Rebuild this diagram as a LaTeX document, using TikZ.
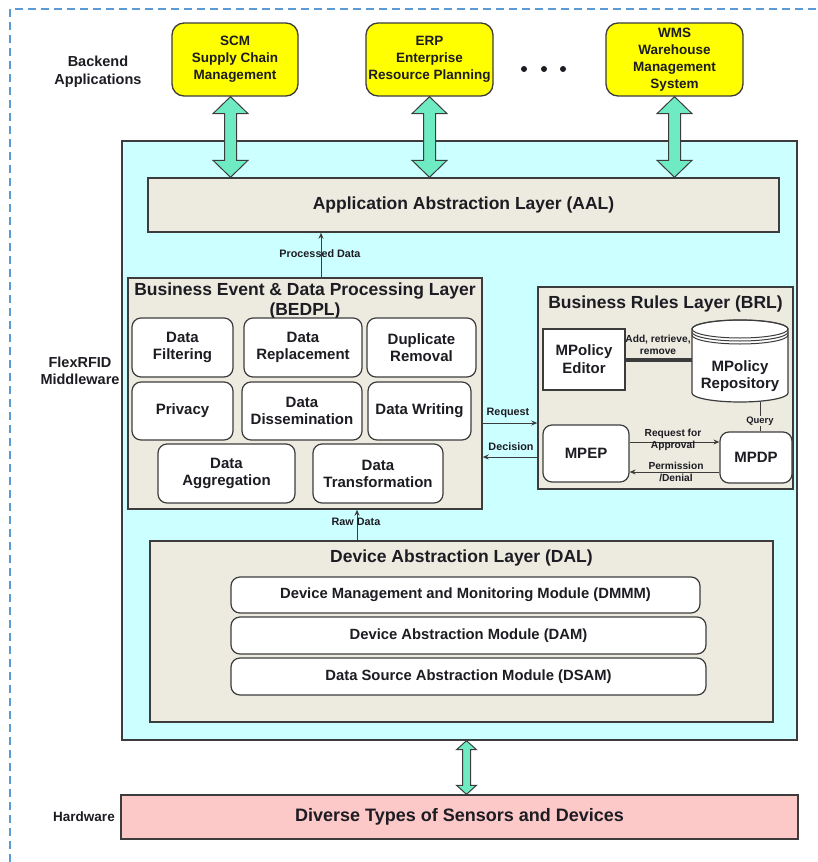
\documentclass[tikz,border=0pt]{standalone}
\usepackage{fontspec}
\setmainfont{Liberation Sans}
\usetikzlibrary{arrows.meta,calc}
\definecolor{edge}{HTML}{3C3C3C}
\definecolor{txt}{HTML}{1C1C22}
\definecolor{layer}{HTML}{EDEBE0}
\definecolor{cyanbg}{HTML}{CCFFFF}
\definecolor{pinkbg}{HTML}{FCC8C8}
\definecolor{appyellow}{HTML}{FFFF00}
\definecolor{arrgreen}{HTML}{6EEBC2}
\definecolor{dashcol}{HTML}{5B9BD5}
\newcommand{\dblarrow}[5]{%
  \path[draw=edge, fill=arrgreen, line width=1pt, line join=miter]
    let \p1=(#1), \p2=(#2) in
    (\x1,\y1) -- (\x1+#3pt,\y1-#5pt) -- (\x1+#4pt,\y1-#5pt) -- (\x1+#4pt,\y2+#5pt)
    -- (\x1+#3pt,\y2+#5pt) -- (\x1,\y2) -- (\x1-#3pt,\y2+#5pt) -- (\x1-#4pt,\y2+#5pt)
    -- (\x1-#4pt,\y1-#5pt) -- (\x1-#3pt,\y1-#5pt) -- cycle;}
\begin{document}
\begin{tikzpicture}[x=1pt,y=1pt,
  >={Stealth[length=6pt,width=5pt]},
  lay/.style={draw=edge, line width=1.4pt, fill=layer, inner sep=0pt, text=txt},
  mod/.style={draw=edge, line width=1.2pt, fill=white, rounded corners=9pt, inner sep=0pt,
    align=center, text=txt, font=\bfseries\fontsize{15}{17}\selectfont},
  dmod/.style={mod, font=\bfseries\fontsize{14.8}{17}\selectfont},
  app/.style={draw=edge, line width=1.3pt, fill=appyellow, rounded corners=12pt, inner sep=0pt,
    align=center, text=txt, font=\bfseries\fontsize{13.5}{17}\selectfont},
  ttl/.style={inner sep=0pt, align=center, text=txt, font=\bfseries\fontsize{17.5}{20}\selectfont},
  side/.style={inner sep=0pt, align=center, text=txt, font=\bfseries\fontsize{14.5}{17.5}\selectfont},
  lbl/.style={inner sep=0pt, align=center, text=txt, font=\bfseries\fontsize{10.8}{12}\selectfont},
  tiny/.style={inner sep=0pt, align=center, text=txt, font=\bfseries\fontsize{10.2}{12.5}\selectfont},
  conn/.style={draw=edge, line width=1pt, ->},
]
\useasboundingbox (0,0) rectangle (817,-862);
% page frame
\draw[dashcol, line width=2pt, dash pattern=on 8pt off 5pt] (10,-862) -- (10,-9) -- (817,-9);

% side labels
\node[side] (lback) at (98,-72) {Backend\\Applications};
\node[side] (lmid) at (80,-371) {FlexRFID\\Middleware};
\node[side, font=\bfseries\fontsize{13.5}{16}\selectfont] (lhw) at (84,-817) {Hardware};

% backend applications
\node[app, minimum width=126pt, minimum height=73pt] (scm) at (235,-59.5) {SCM\\Supply Chain\\Management};
\node[app, minimum width=127pt, minimum height=73pt] (erp) at (429.5,-59.5) {ERP\\Enterprise\\Resource Planning};
\node[app, minimum width=137pt, minimum height=73pt] (wms) at (674.5,-59.5) {WMS\\Warehouse\\Management\\System};
\fill[txt] (524,-69) circle (3) (544,-69) circle (3) (563,-69) circle (3);

% middleware
\node[draw=edge, line width=1.4pt, fill=cyanbg, minimum width=675pt, minimum height=599pt, inner sep=0pt] (mw) at (459.5,-440.5) {};
\node[lay, minimum width=631pt, minimum height=54pt, font=\bfseries\fontsize{17.5}{20}\selectfont] (aal) at (463.5,-205) {Application Abstraction Layer (AAL)};

\dblarrow{[xshift=-4.5pt]scm.south}{aal.north}{17.5}{6}{17}
\dblarrow{erp.south}{aal.north}{17.5}{6}{17}
\dblarrow{wms.south}{aal.north}{17.5}{6}{17}

% BEDPL
\node[lay, minimum width=354pt, minimum height=231pt] (bedpl) at (305,-393.5) {};
\node[ttl] (bedt) at (305,-301) {Business Event \& Data Processing Layer\\(BEDPL)};
\node[mod, minimum width=101pt, minimum height=59pt] (filt) at (182.5,-347.5) {Data\\Filtering};
\node[mod, minimum width=118pt, minimum height=59pt] (repl) at (303,-347.5) {Data\\Replacement};
\node[mod, minimum width=109pt, minimum height=59pt] (dup) at (421.5,-347.5) {Duplicate\\Removal};
\node[mod, minimum width=101pt, minimum height=58pt] (priv) at (182.5,-411) {Privacy};
\node[mod, minimum width=120pt, minimum height=58pt] (diss) at (302,-411) {Data\\Dissemination};
\node[mod, minimum width=103pt, minimum height=58pt] (writ) at (419.5,-411) {Data Writing};
\node[mod, minimum width=137pt, minimum height=59pt] (aggr) at (226.5,-473.5) {Data\\Aggregation};
\node[mod, minimum width=130pt, minimum height=59pt] (trans) at (378,-473.5) {Data\\Transformation};

% BRL
\node[lay, minimum width=255pt, minimum height=202pt] (brl) at (665.5,-388) {};
\node[ttl] (brlt) at (665.5,-304) {Business Rules Layer (BRL)};
\node[draw=edge, line width=1.2pt, fill=white, minimum width=82pt, minimum height=61pt, inner sep=0pt,
  align=center, text=txt, font=\bfseries\fontsize{15}{18}\selectfont] (ed) at (584,-359.5) {MPolicy\\Editor};
% repository cylinder
\draw[edge, line width=1.2pt, fill=white] (692,-329) -- (692,-393)
  arc[start angle=180, end angle=360, x radius=48, y radius=9] -- (788,-329)
  arc[start angle=0, end angle=180, x radius=48, y radius=9] -- cycle;
\draw[edge, line width=1pt] (740,-329) ellipse [x radius=48, y radius=9];
\draw[edge, line width=1pt] (692,-332) arc[start angle=180, end angle=360, x radius=48, y radius=9];
\draw[edge, line width=1pt] (692,-335) arc[start angle=180, end angle=360, x radius=48, y radius=9];
\node[inner sep=0pt, minimum width=96pt, minimum height=82pt] (repo) at (740,-361) {};
\node[inner sep=0pt, align=center, text=txt, font=\bfseries\fontsize{15}{17}\selectfont] (repot) at (740,-376) {MPolicy\\Repository};
\node[mod, minimum width=86pt, minimum height=57pt] (mpep) at (586,-453.5) {MPEP};
\node[mod, minimum width=72pt, minimum height=51pt] (mpdp) at (756,-457.5) {MPDP};

\draw[edge, line width=4pt] (ed.east) -- (ed.east -| repo.west);
\node[tiny] (addl) at (658,-345) {Add, retrieve,\\remove};

\draw[edge, line width=1pt] ([xshift=20pt]repo.south) -- ([xshift=4pt]mpdp.north);
\node[tiny, fill=layer, inner sep=1pt, font=\bfseries\fontsize{9.4}{10}\selectfont] (ql) at (760,-421) {Query};

\coordinate (ra) at ([yshift=11.5pt]mpep.east);
\draw[conn] (ra) -- (ra -| mpdp.west);
\node[tiny] (ral) at (673,-440) {Request for\\Approval};
\coordinate (pm) at ([yshift=-18.5pt]mpep.east);
\draw[conn] (pm -| mpdp.west) -- (pm);
\node[tiny] (pml) at (676,-472) {Permission\\/Denial};

% BEDPL <-> BRL
\coordinate (rq) at ([yshift=-29.5pt]bedpl.east);
\draw[conn] (rq) -- (rq -| brl.west);
\node[lbl] (rql) at (508,-413) {Request};
\coordinate (dc) at ([yshift=-63.5pt]bedpl.east);
\draw[conn] (dc -| brl.west) -- (dc);
\node[lbl] (dcl) at (511,-447) {Decision};

% processed data
\coordinate (pd) at ([xshift=16pt]bedpl.north);
\draw[conn] (pd) -- (pd |- aal.south);
\node[lbl] (pdl) at (320,-254) {Processed Data};

% DAL
\node[lay, minimum width=623pt, minimum height=181pt] (dal) at (461.5,-631.5) {};
\node[ttl] (dalt) at (461.5,-558) {Device Abstraction Layer (DAL)};
\node[dmod, minimum width=469pt, minimum height=36pt] (dmmm) at (465.5,-595) {Device Management and Monitoring Module (DMMM)};
\node[dmod, minimum width=475pt, minimum height=37pt] (dam) at (468.5,-635.5) {Device Abstraction Module (DAM)};
\node[dmod, minimum width=475pt, minimum height=37pt] (dsam) at (468.5,-676.5) {Data Source Abstraction Module (DSAM)};

\coordinate (rd) at ([xshift=-104.5pt]dal.north);
\draw[conn] (rd) -- (rd |- bedpl.south);
\node[lbl] (rdl) at (356,-522) {Raw Data};

% hardware
\node[draw=edge, line width=1.4pt, fill=pinkbg, minimum width=677pt, minimum height=44pt, inner sep=0pt,
  text=txt, font=\bfseries\fontsize{18}{20}\selectfont] (hw) at (459.5,-817) {Diverse Types of Sensors and Devices};
\dblarrow{[xshift=7pt]mw.south}{hw.north}{10}{4}{9}
\end{tikzpicture}
\end{document}
